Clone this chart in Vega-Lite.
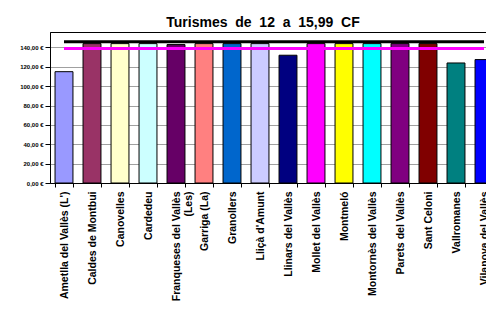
{
  "$schema": "https://vega.github.io/schema/vega-lite/v6.json",
  "autosize": {"type": "none"},
  "padding": {"left": 50, "top": 32, "right": 0, "bottom": 128},
  "width": 448,
  "height": 151,
  "background": "white",
  "title": {"text": "Turismes\u00a0\u00a0de\u00a0\u00a012\u00a0\u00a0a\u00a0\u00a015,99\u00a0\u00a0CF", "font": "Liberation Sans", "fontSize": 14, "fontWeight": "bold", "color": "#000000", "anchor": "middle", "offset": 2, "dx": -11},
  "data": {"values": [
    {"m": "Ametlla del Vallès (L')", "v": 115, "a": 146, "b": 139},
    {"m": "Caldes de Montbui", "v": 144, "a": 146, "b": 139},
    {"m": "Canovelles", "v": 144, "a": 146, "b": 139},
    {"m": "Cardedeu", "v": 144, "a": 146, "b": 139},
    {"m": "Franqueses del Vallès (Les)", "v": 143, "a": 146, "b": 139},
    {"m": "Garriga (La)", "v": 144, "a": 146, "b": 139},
    {"m": "Granollers", "v": 144, "a": 146, "b": 139},
    {"m": "Lliçà d'Amunt", "v": 144, "a": 146, "b": 139},
    {"m": "Llinars del Vallès", "v": 132, "a": 146, "b": 139},
    {"m": "Mollet del Vallès", "v": 144, "a": 146, "b": 139},
    {"m": "Montmeló", "v": 144, "a": 146, "b": 139},
    {"m": "Montornès del Vallès", "v": 144, "a": 146, "b": 139},
    {"m": "Parets del Vallès", "v": 144, "a": 146, "b": 139},
    {"m": "Sant Celoni", "v": 144, "a": 146, "b": 139},
    {"m": "Vallromanes", "v": 124, "a": 146, "b": 139},
    {"m": "Vilanova del Vallès", "v": 127.5, "a": 146, "b": 139}
  ]},
  "encoding": {
    "x": {"field": "m", "type": "nominal", "sort": null,
      "scale": {"paddingInner": 0.36, "paddingOuter": 0.18},
      "axis": {"title": null, "labelAngle": -90, "labelAlign": "right", "labelBaseline": "middle", "labelFont": "Liberation Sans", "labelFontWeight": "bold", "labelFontSize": 10.5, "labelColor": "#000000", "labelPadding": 4, "tickBand": "extent", "tickColor": "#000000", "tickSize": 4, "domainColor": "#000000", "grid": false, "labelLimit": 0, "labelOverlap": false, "labelBound": false, "labelFlush": false,
        "labelExpr": "datum.value == 'Franqueses del Vallès (Les)' ? ['Franqueses del Vallès', '(Les)'] : datum.value"}
    },
    "y": {"type": "quantitative", "scale": {"domain": [0, 156], "nice": false},
      "axis": {"title": null, "values": [0, 20, 40, 60, 80, 100, 120, 140], "tickCount": 8, "labelExpr": "replace(format(datum.value, '.2f'), '.', ',') + ' €'", "labelFont": "Liberation Sans", "labelFontSize": 6, "labelFontWeight": "bold", "labelColor": "#000000", "tickColor": "#000000", "tickSize": 5, "domainColor": "#000000", "gridColor": "#a0a0a0", "gridWidth": 1, "labelPadding": 2, "labelOverlap": false, "labelBound": false, "labelFlush": false}}
  },
  "layer": [
    {
      "mark": {"type": "bar", "stroke": "#000000", "strokeWidth": 1},
      "encoding": {
        "y": {"field": "v"},
        "color": {"field": "m", "type": "nominal", "legend": null, "sort": null,
          "scale": {"range": ["#9999FF", "#993366", "#FFFFCC", "#CCFFFF", "#660066", "#FF8080", "#0066CC", "#CCCCFF", "#000080", "#FF00FF", "#FFFF00", "#00FFFF", "#800080", "#800000", "#008080", "#0000FF"]}}
      }
    },
    {
      "mark": {"type": "line", "color": "#000000", "strokeWidth": 3},
      "encoding": {"y": {"field": "a"}}
    },
    {
      "mark": {"type": "line", "color": "#FF00FF", "strokeWidth": 3},
      "encoding": {"y": {"field": "b"}}
    }
  ],
  "config": {"view": {"stroke": "#000000", "strokeWidth": 1}}
}
